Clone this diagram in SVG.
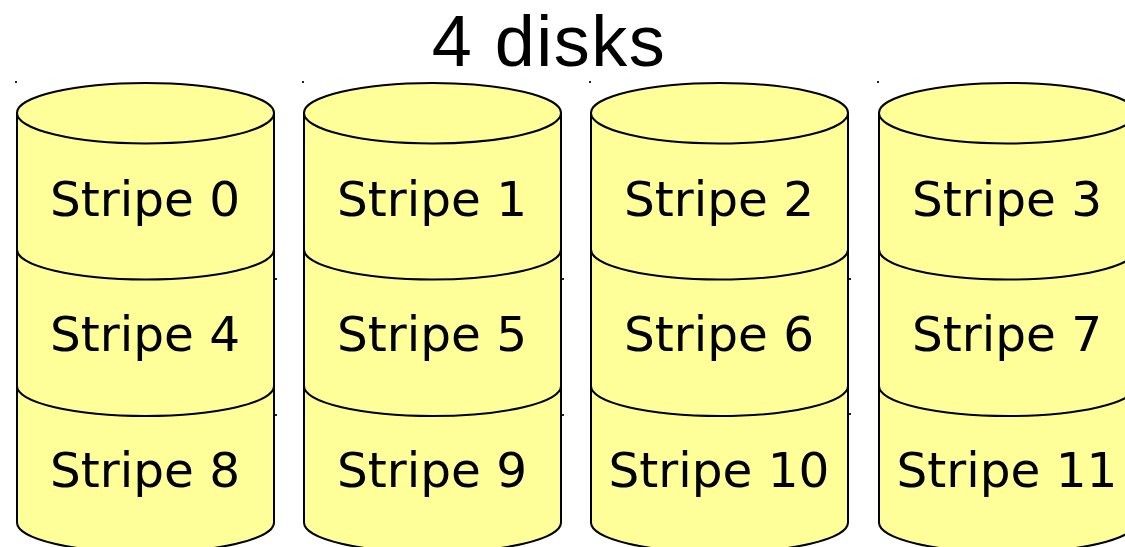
<svg xmlns="http://www.w3.org/2000/svg" width="1125" height="547" viewBox="0 0 1125 547">
  <style>
    .body { fill: #ffff99; stroke: #000; stroke-width: 2; }
    .rim { fill: none; stroke: #000; stroke-width: 2; }
    .lbl { font-family: "DejaVu Sans", Verdana, sans-serif; font-size: 48.5px; fill: #000; text-anchor: middle; }
    .title { font-family: "Liberation Sans", Arial, sans-serif; font-size: 72px; letter-spacing: 1.5px; fill: #000; text-anchor: middle; }
    .tick { fill: #222; }
  </style>
  <defs>
    <!-- one stacked-cylinder segment, 257 wide, 136.5 tall body, local origin at left edge of top rim -->
    <path id="seg" class="body" d="M0,0 A128.5,30 0 0 1 257,0 L257,136.5 A128.5,30 0 0 1 0,136.5 Z"/>
    <path id="topRim" class="rim" d="M0,0 A128.5,30.5 0 0 0 257,0"/>
  </defs>

  <text class="title" x="549" y="66">4 disks</text>

  <!-- disk 0 -->
  <g id="disk0" transform="translate(17,0)">
    <use href="#seg" y="386"/>
    <use href="#seg" y="249.5"/>
    <use href="#seg" y="113"/>
    <use href="#topRim" y="113"/>
    <text class="lbl" x="128" y="216">Stripe 0</text>
    <text class="lbl" x="128" y="351">Stripe 4</text>
    <text class="lbl" x="128" y="487">Stripe 8</text>
  </g>

  <!-- disk 1 -->
  <g id="disk1" transform="translate(304,0)">
    <use href="#seg" y="386"/>
    <use href="#seg" y="249.5"/>
    <use href="#seg" y="113"/>
    <use href="#topRim" y="113"/>
    <text class="lbl" x="128" y="216">Stripe 1</text>
    <text class="lbl" x="128" y="351">Stripe 5</text>
    <text class="lbl" x="128" y="487">Stripe 9</text>
  </g>

  <!-- disk 2 -->
  <g id="disk2" transform="translate(591,0)">
    <use href="#seg" y="386"/>
    <use href="#seg" y="249.5"/>
    <use href="#seg" y="113"/>
    <use href="#topRim" y="113"/>
    <text class="lbl" x="128" y="216">Stripe 2</text>
    <text class="lbl" x="128" y="351">Stripe 6</text>
    <text class="lbl" x="128" y="487">Stripe 10</text>
  </g>

  <!-- disk 3 -->
  <g id="disk3" transform="translate(879,0)">
    <use href="#seg" y="386"/>
    <use href="#seg" y="249.5"/>
    <use href="#seg" y="113"/>
    <use href="#topRim" y="113"/>
    <text class="lbl" x="128" y="216">Stripe 3</text>
    <text class="lbl" x="128" y="351">Stripe 7</text>
    <text class="lbl" x="128" y="487">Stripe 11</text>
  </g>

  <!-- small corner marks -->
  <g id="marks">
    <rect class="tick" x="15" y="81" width="2" height="2"/>
    <rect class="tick" x="302" y="81" width="2" height="2"/>
    <rect class="tick" x="589" y="81" width="2" height="2"/>
    <rect class="tick" x="877" y="81" width="2" height="2"/>
    <rect class="tick" x="275" y="278" width="2" height="2"/>
    <rect class="tick" x="275" y="414" width="2" height="2"/>
    <rect class="tick" x="562" y="278" width="2" height="2"/>
    <rect class="tick" x="562" y="414" width="2" height="2"/>
    <rect class="tick" x="849" y="278" width="2" height="2"/>
    <rect class="tick" x="849" y="413" width="2" height="2"/>
  </g>
</svg>
